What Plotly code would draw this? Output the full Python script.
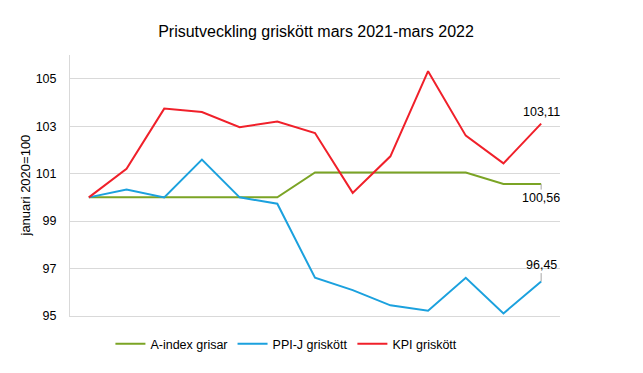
import plotly.graph_objects as go

months = ["mar-21", "apr-21", "maj-21", "jun-21", "jul-21", "aug-21", "sep-21",
          "okt-21", "nov-21", "dec-21", "jan-22", "feb-22", "mar-22"]
a_index = [100.0, 100.0, 100.0, 100.0, 100.0, 100.0, 101.05, 101.05, 101.05, 101.05, 101.05, 100.56, 100.56]
ppi_j = [100.0, 100.33, 100.0, 101.59, 100.0, 99.73, 96.61, 96.09, 95.45, 95.22, 96.61, 95.11, 96.45]
kpi = [100.0, 101.2, 103.74, 103.6, 102.96, 103.2, 102.71, 100.19, 101.73, 105.32, 102.6, 101.43, 103.11]
y_ticks = [95, 97, 99, 101, 103, 105]

FONT = "Liberation Sans, Arial, sans-serif"
GREEN = "#7BA425"
BLUE = "#1BA1DE"
RED = "#F0202A"

x = list(range(len(months)))
fig = go.Figure()
fig.add_trace(go.Scatter(x=x, y=a_index, mode="lines", name="A-index grisar",
                         line=dict(color=GREEN, width=2)))
fig.add_trace(go.Scatter(x=x, y=ppi_j, mode="lines", name="PPI-J griskött",
                         line=dict(color=BLUE, width=2)))
fig.add_trace(go.Scatter(x=x, y=kpi, mode="lines", name="KPI griskött",
                         line=dict(color=RED, width=2)))

def fmt(v):
    return f"{v:.2f}".replace(".", ",")

last = len(months) - 1
fig.add_annotation(x=last, y=kpi[-1], text=fmt(kpi[-1]), showarrow=False,
                   yshift=12, font=dict(family=FONT, size=12.5, color="#000"))
fig.add_annotation(x=last, y=a_index[-1], text=fmt(a_index[-1]), showarrow=True,
                   ax=0, ay=14, arrowhead=0, arrowwidth=1, arrowcolor="#a6a6a6",
                   font=dict(family=FONT, size=12.5, color="#000"))
fig.add_annotation(x=last, y=ppi_j[-1], text=fmt(ppi_j[-1]), showarrow=True,
                   ax=0, ay=-17, arrowhead=0, arrowwidth=1, arrowcolor="#a6a6a6",
                   font=dict(family=FONT, size=12.5, color="#000"))
# y-axis title
fig.add_annotation(xref="paper", yref="paper", x=-45 / 490, y=0.5,
                   xanchor="center", yanchor="middle", textangle=-90,
                   text="januari 2020=100", showarrow=False,
                   font=dict(family=FONT, size=13, color="#000"))

fig.update_layout(
    width=643, height=373,
    margin=dict(l=70, r=83, t=55, b=57, autoexpand=False),
    paper_bgcolor="white", plot_bgcolor="white",
    font=dict(family=FONT, size=12, color="#000"),
    title=dict(text="Prisutveckling griskött mars 2021-mars 2022",
               x=316 / 643, xanchor="center", y=1 - 31 / 373, yanchor="middle",
               font=dict(family=FONT, size=16, color="#000")),
    showlegend=True,
    legend=dict(orientation="h", x=284 / 643, xref="paper", xanchor="center",
                y=-0.05, yanchor="top", font=dict(family=FONT, size=12.5, color="#000"),
                itemwidth=30, tracegroupgap=0, bgcolor="rgba(0,0,0,0)"),
    xaxis=dict(range=[-0.5, 12.5], showticklabels=False, showgrid=False,
               zeroline=False, showline=True, linecolor="#d9d9d9", linewidth=1,
               ticks="", automargin=False),
    yaxis=dict(range=[95, 106], tickvals=y_ticks, ticktext=[str(t) for t in y_ticks],
               showgrid=True, gridcolor="#d9d9d9", gridwidth=1, zeroline=False,
               showline=True, linecolor="#d9d9d9", linewidth=1, ticks="",
               ticklabelstandoff=10, automargin=False,
               tickfont=dict(family=FONT, size=12.5, color="#000")),
)

fig.write_html("out.html", config={"displayModeBar": False},
               post_script="document.body.style.margin='0';")
